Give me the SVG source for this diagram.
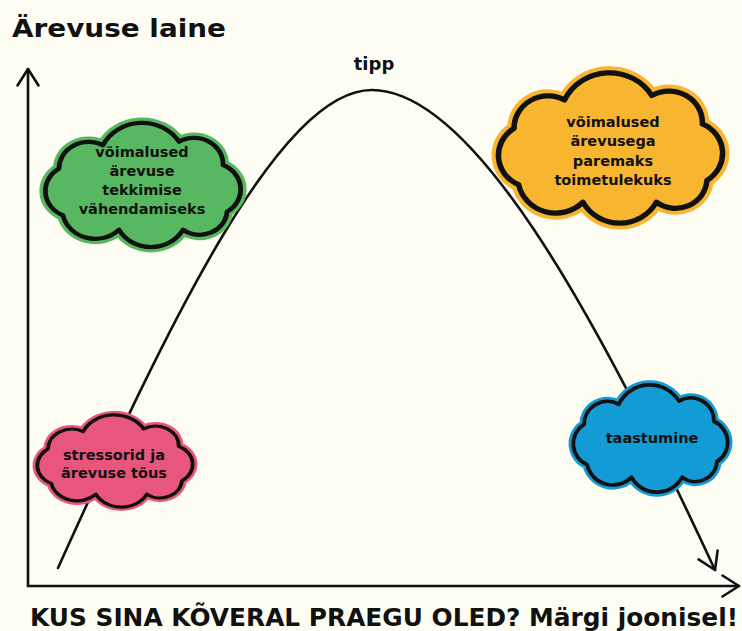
<svg xmlns="http://www.w3.org/2000/svg" xmlns:xlink="http://www.w3.org/1999/xlink" width="742" height="631" viewBox="0 0 742 631">
<style>
.bg{fill:#FDFDF4}
.line{fill:none;stroke:#111;stroke-width:2.6;stroke-linecap:round;stroke-linejoin:round}
.halo{stroke-width:6;vector-effect:non-scaling-stroke}
.body{stroke:#111;stroke-width:2.4;vector-effect:non-scaling-stroke;stroke-linejoin:round}
.lbl{font-family:"DejaVu Sans","Liberation Sans",sans-serif;font-weight:700;font-size:14.5px;fill:#111;text-anchor:middle}
.title{font-family:"DejaVu Sans","Liberation Sans",sans-serif;font-weight:700;font-size:25px;fill:#111}
.foot{font-family:"DejaVu Sans","Liberation Sans",sans-serif;font-weight:700;font-size:24px;fill:#111}
</style>
<defs>
<path id="cloud" d="M10,52 A14.8,14.8 0 0 1 8,26 A14.8,14.8 0 0 1 30,13 A21.5,21.5 0 0 1 68,11 A14.5,14.5 0 0 1 90,24 A14.8,14.8 0 0 1 92,50 A13.7,13.7 0 0 1 70,60 A18.1,18.1 0 0 1 38,60 A16.5,16.5 0 0 1 10,52 Z"/>
<marker id="arr" markerUnits="userSpaceOnUse" orient="auto" refX="0" refY="0" markerWidth="1" markerHeight="1" overflow="visible">
<path d="M-16.5,-10.5 L0,0 L-16.5,10.5" fill="none" stroke="#111" stroke-width="2.6" stroke-linecap="round" stroke-linejoin="round"/>
</marker>
</defs>
<rect class="bg" x="0" y="0" width="742" height="631"/>
<text class="title" x="12" y="37" textLength="214" lengthAdjust="spacingAndGlyphs">Ärevuse laine</text>
<g id="connectors">
<path id="y-axis" class="line" d="M28,586 L28,69" marker-end="url(#arr)"/>
<path id="x-axis" class="line" d="M28,586 L739,586" marker-end="url(#arr)"/>
<path id="wave" class="line" d="M58,568 C170,320 280,90 372,90 C470,90 590,300 715,570" marker-end="url(#arr)"/>
</g>
<text id="tipp" class="lbl" x="374" y="70" style="font-size:18px">tipp</text>
<g id="cloud-green">
<use xlink:href="#cloud" class="halo" fill="#58B862" stroke="#58B862" transform="translate(43,121.9) scale(2.0,1.797)"/>
<use xlink:href="#cloud" class="body" fill="#58B862" transform="translate(43,121.9) scale(2.0,1.797)"/>
<text class="lbl" x="142" y="157">võimalused</text>
<text class="lbl" x="142" y="176">ärevuse</text>
<text class="lbl" x="142" y="195">tekkimise</text>
<text class="lbl" x="142" y="214">vähendamiseks</text>
</g>
<g id="cloud-orange">
<use xlink:href="#cloud" class="halo" fill="#F8B52F" stroke="#F8B52F" transform="translate(495.7,71.7) scale(2.296,2.174)"/>
<use xlink:href="#cloud" class="body" fill="#F8B52F" transform="translate(495.7,71.7) scale(2.296,2.174)"/>
<text class="lbl" x="613" y="127">võimalused</text>
<text class="lbl" x="613" y="146">ärevusega</text>
<text class="lbl" x="613" y="165.5">paremaks</text>
<text class="lbl" x="613" y="185">toimetulekuks</text>
</g>
<g id="cloud-pink">
<use xlink:href="#cloud" class="halo" fill="#E8567E" stroke="#E8567E" transform="translate(35.4,414.2) scale(1.592,1.333)"/>
<use xlink:href="#cloud" class="body" fill="#E8567E" transform="translate(35.4,414.2) scale(1.592,1.333)"/>
<text class="lbl" x="114" y="460">stressorid ja</text>
<text class="lbl" x="114" y="478">ärevuse tõus</text>
</g>
<g id="cloud-blue">
<use xlink:href="#cloud" class="halo" fill="#139BD6" stroke="#139BD6" transform="translate(571.4,384.1) scale(1.582,1.551)"/>
<use xlink:href="#cloud" class="body" fill="#139BD6" transform="translate(571.4,384.1) scale(1.582,1.551)"/>
<text class="lbl" x="652" y="443">taastumine</text>
</g>
<text class="foot" x="30" y="626" textLength="708" lengthAdjust="spacingAndGlyphs">KUS SINA KÕVERAL PRAEGU OLED? Märgi joonisel!</text>
</svg>
